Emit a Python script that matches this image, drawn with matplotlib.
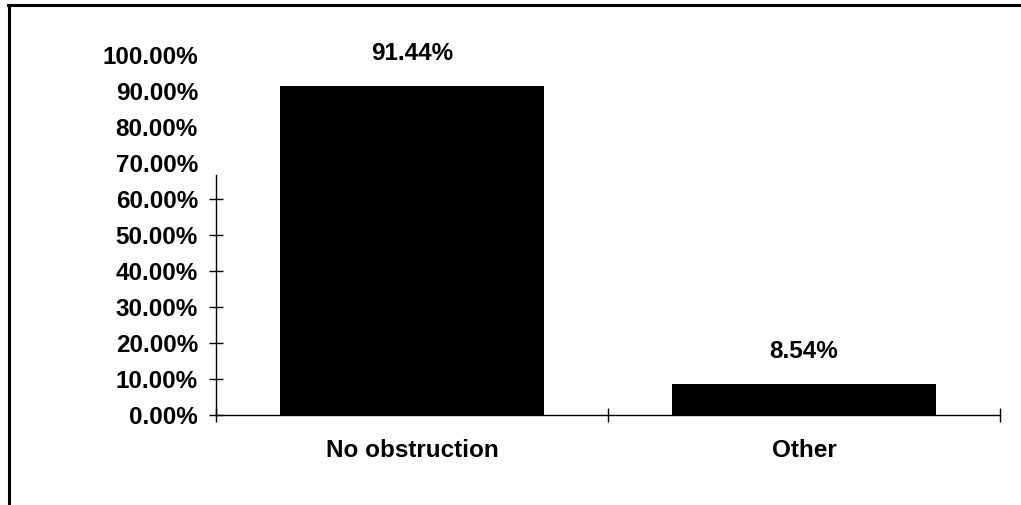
import numpy as np
import matplotlib.pyplot as plt
from matplotlib.lines import Line2D

# data
categories = ['No obstruction', 'Other']
shares = [0.9144, 0.0854]
value_labels = ['91.44%', '8.54%']
ytick_values = [0.0, 0.1, 0.2, 0.3, 0.4, 0.5, 0.6, 0.7, 0.8, 0.9, 1.0]

plt.rcParams['font.family'] = ['Liberation Sans', 'DejaVu Sans']
fs = 17.5

fig = plt.figure(figsize=(10.21, 5.05), dpi=100)
ax = fig.add_axes([216/1021, 90/505, 784/1021, 360/505])

x = np.arange(len(categories))
ax.bar(x, shares, width=0.675, color='black')

ax.set_xlim(-0.5, 1.5)
ax.set_ylim(0, 1.0)

# value labels above bars
for xi, v, lab in zip(x, shares, value_labels):
    ax.annotate(lab, xy=(xi, v), xytext=(0, 23.5), textcoords='offset points',
                ha='center', va='center', fontsize=fs, fontweight='bold')

# spines
for s in ['top', 'right']:
    ax.spines[s].set_visible(False)
ax.spines['left'].set_bounds(0, 0.667)
ax.spines['left'].set_linewidth(1.0)
ax.spines['bottom'].set_linewidth(1.0)

# y ticks: labels for all, marks only up to 60%
ax.set_yticks(ytick_values)
ax.set_yticklabels([f'{v*100:.2f}%' for v in ytick_values], fontsize=fs, fontweight='bold')
ax.tick_params(axis='y', direction='inout', length=10, width=1, pad=8)
for tick in ax.yaxis.get_major_ticks():
    if tick.get_loc() > 0.65:
        tick.tick1line.set_visible(False)

# x ticks: category names centred, marks at the boundaries
ax.set_xticks(x)
ax.set_xticklabels(categories, fontsize=fs, fontweight='bold')
ax.tick_params(axis='x', which='major', length=0, pad=17.5)
ax.set_xticks([-0.5, 0.5, 1.5], minor=True)
ax.tick_params(axis='x', which='minor', direction='inout', length=10, width=1)

# frame lines (top and left) of the figure
fig.add_artist(Line2D([8/1021, 1.0], [1 - 5/505, 1 - 5/505], color='black', lw=2.2))
fig.add_artist(Line2D([9/1021, 9/1021], [0.0, 1 - 5/505], color='black', lw=2.2))

fig.savefig('out.png', dpi=100)
